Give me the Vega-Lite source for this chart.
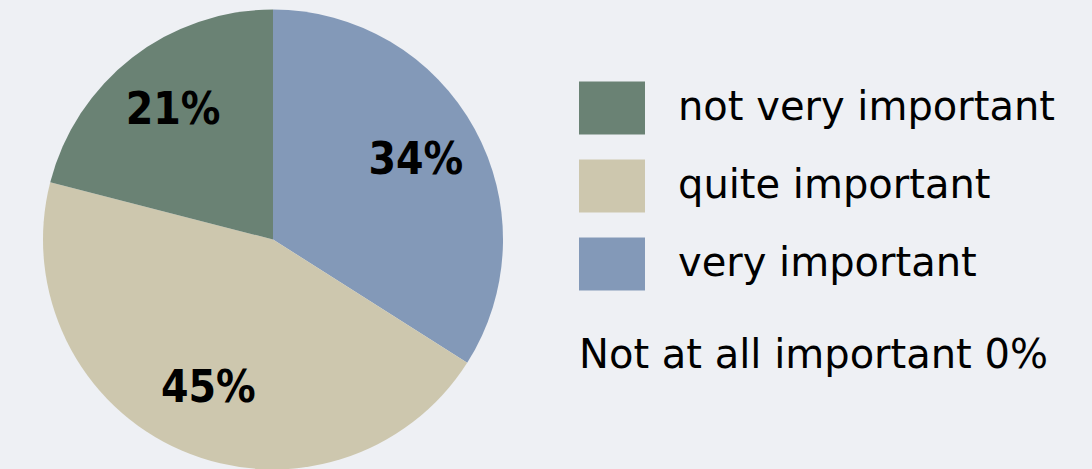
{
  "$schema": "https://vega.github.io/schema/vega-lite/v6.json",
  "width": 546,
  "height": 459,
  "autosize": {"type": "none"},
  "padding": {"left": 0, "top": 10, "right": 546, "bottom": 0},
  "background": "#eef0f4",
  "config": {"view": {"stroke": null}},
  "data": {"values": [
    {"category": "very important", "value": 34, "label": "34%", "rank": 1},
    {"category": "quite important", "value": 45, "label": "45%", "rank": 2},
    {"category": "not very important", "value": 21, "label": "21%", "rank": 3}
  ]},
  "encoding": {
    "theta": {"field": "value", "type": "quantitative", "stack": true},
    "order": {"field": "rank", "type": "ordinal"}
  },
  "layer": [
    {
      "mark": {"type": "arc", "outerRadius": 230},
      "encoding": {
        "color": {
          "field": "category",
          "type": "nominal",
          "scale": {
            "domain": ["not very important", "quite important", "very important"],
            "range": ["#6a8274", "#cdc7ae", "#8399b8"]
          },
          "legend": {
            "orient": "none",
            "legendX": 579,
            "legendY": 65,
            "padding": 0,
            "title": "Not at all important 0%",
            "titleOrient": "bottom",
            "titleAnchor": "start",
            "titleFont": "DejaVu Sans",
            "titleFontSize": 40,
            "titleFontWeight": "normal",
            "titleColor": "#000000",
            "titlePadding": 46,
            "titleLimit": 600,
            "labelFont": "DejaVu Sans",
            "labelFontSize": 40,
            "labelColor": "#000000",
            "labelOffset": 33,
            "labelLimit": 600,
            "symbolType": "M-1,-0.8H1V0.8H-1Z",
            "symbolSize": 4356,
            "symbolStrokeWidth": 0,
            "symbolOpacity": 1,
            "rowPadding": 18
          }
        }
      }
    },
    {
      "mark": {"type": "text", "radius": 163, "font": "DejaVu Sans Condensed", "fontSize": 44, "fontWeight": "bold", "color": "#000000"},
      "encoding": {"text": {"field": "label", "type": "nominal"}}
    }
  ]
}
